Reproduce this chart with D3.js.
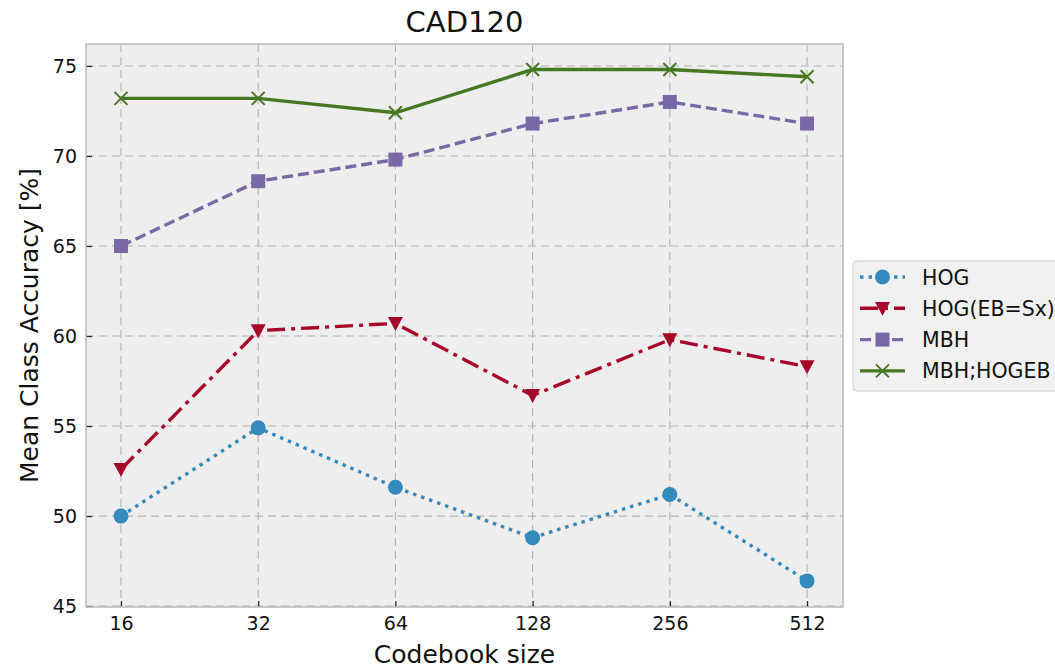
<!DOCTYPE html>
<html>
<head>
<meta charset="utf-8">
<script src="https://cdn.jsdelivr.net/npm/d3@7"></script>
<style>
  body { margin: 0; background: #ffffff; overflow: hidden; }
  svg { font-family: "DejaVu Sans", sans-serif; }
</style>
</head>
<body>
<div id="chart"></div>
<script>
// codebook sizes on the x axis
const sizes = [16, 32, 64, 128, 256, 512];
const yTicks = [45, 50, 55, 60, 65, 70, 75];

const hog = [50.0, 54.9, 51.6, 48.8, 51.2, 46.4];
const hogEB = [52.6, 60.3, 60.7, 56.7, 59.8, 58.3];
const mbh = [65.0, 68.6, 69.8, 71.8, 73.0, 71.8];
const mbhHogeb = [73.2, 73.2, 72.4, 74.8, 74.8, 74.4];

const seriesNames = ["HOG", "HOG(EB=Sx)", "MBH", "MBH;HOGEB"];
const seriesColors = ["#348ABD", "#A60628", "#7A68A6", "#467821"];

const W = 1055, H = 669;
const margin = {left: 86, right: 1055 - 843, top: 44, bottom: 669 - 607};

const svg = d3.select("#chart").append("svg")
    .attr("width", W).attr("height", H);

const x = d3.scaleLog().base(2)
    .domain([16 / Math.pow(2, 0.255), 512 * Math.pow(2, 0.262)])
    .range([margin.left, W - margin.right]);
const y = d3.scaleLinear()
    .domain([44.95, 76.22])
    .range([H - margin.bottom, margin.top]);

// plot background
svg.append("rect")
    .attr("x", margin.left).attr("y", margin.top)
    .attr("width", x.range()[1] - margin.left)
    .attr("height", y.range()[0] - margin.top)
    .attr("fill", "#eeeeee");

// grid
svg.append("g").selectAll("line").data(sizes).enter().append("line")
    .attr("x1", d => x(d)).attr("x2", d => x(d))
    .attr("y1", margin.top).attr("y2", y.range()[0])
    .attr("stroke", "#b2b2b2").attr("stroke-width", 1.1)
    .attr("stroke-dasharray", "8,5");
svg.append("g").selectAll("line").data(yTicks).enter().append("line")
    .attr("x1", margin.left).attr("x2", x.range()[1])
    .attr("y1", d => y(d)).attr("y2", d => y(d))
    .attr("stroke", "#b2b2b2").attr("stroke-width", 1.1)
    .attr("stroke-dasharray", "8,5");

// axes (ticks point inward)
const xAxis = svg.append("g")
    .attr("transform", `translate(0,${y.range()[0]})`)
    .call(d3.axisBottom(x).tickValues(sizes).tickFormat(d3.format("d"))
        .tickSizeInner(-6).tickSizeOuter(0).tickPadding(10));
const yAxis = svg.append("g")
    .attr("transform", `translate(${margin.left},0)`)
    .call(d3.axisLeft(y).tickValues(yTicks)
        .tickSizeInner(-6).tickSizeOuter(0).tickPadding(9));
[xAxis, yAxis].forEach(a => {
    a.select(".domain").remove();
    a.selectAll(".tick line").attr("stroke", "#222").attr("stroke-width", 1.2);
    a.selectAll(".tick text").attr("font-size", 19).attr("fill", "#111")
        .attr("font-family", "DejaVu Sans");
});

// frame
svg.append("rect")
    .attr("x", margin.left).attr("y", margin.top)
    .attr("width", x.range()[1] - margin.left)
    .attr("height", y.range()[0] - margin.top)
    .attr("fill", "none").attr("stroke", "#bcbcbc").attr("stroke-width", 1.6);

const dashes = ["3.5,5", "18,6,4,6", "11,5", null];
const allSeries = [hog, hogEB, mbh, mbhHogeb];

const line = d3.line().x((d, i) => x(sizes[i])).y(d => y(d));

function drawMarker(g, k, cx, cy, color) {
    if (k === 0) {
        g.append("circle").attr("cx", cx).attr("cy", cy).attr("r", 7.5).attr("fill", color);
    } else if (k === 1) {
        const s = 7.5;
        g.append("path")
            .attr("d", `M${cx - s},${cy - s * 0.85}L${cx + s},${cy - s * 0.85}L${cx},${cy + s}Z`)
            .attr("fill", color);
    } else if (k === 2) {
        g.append("rect").attr("x", cx - 7).attr("y", cy - 7)
            .attr("width", 14).attr("height", 14).attr("fill", color);
    } else {
        const s = 6.5;
        g.append("path")
            .attr("d", `M${cx - s},${cy - s}L${cx + s},${cy + s}M${cx - s},${cy + s}L${cx + s},${cy - s}`)
            .attr("stroke", color).attr("stroke-width", 2).attr("fill", "none");
    }
}

allSeries.forEach((vals, k) => {
    const g = svg.append("g");
    g.append("path").datum(vals)
        .attr("d", line)
        .attr("fill", "none")
        .attr("stroke", seriesColors[k])
        .attr("stroke-width", 3.4)
        .attr("stroke-dasharray", dashes[k]);
    vals.forEach((v, i) => drawMarker(g, k, x(sizes[i]), y(v), seriesColors[k]));
});

// title and labels
svg.append("text").attr("x", (margin.left + x.range()[1]) / 2).attr("y", 31.5)
    .attr("text-anchor", "middle").attr("font-size", 29).attr("fill", "#111")
    .text("CAD120");
svg.append("text").attr("x", (margin.left + x.range()[1]) / 2).attr("y", 663)
    .attr("text-anchor", "middle").attr("font-size", 25).attr("fill", "#111")
    .text("Codebook size");
svg.append("text")
    .attr("transform", `translate(38,${(margin.top + y.range()[0]) / 2}) rotate(-90)`)
    .attr("text-anchor", "middle").attr("font-size", 25).attr("fill", "#111")
    .text("Mean Class Accuracy [%]");

// legend
const leg = svg.append("g").attr("transform", "translate(853,261)");
leg.append("rect").attr("x", 0).attr("y", 0).attr("width", 230).attr("height", 130)
    .attr("rx", 4).attr("fill", "#eeeeee").attr("fill-opacity", 0.85)
    .attr("stroke", "#cccccc").attr("stroke-width", 1);
seriesNames.forEach((name, k) => {
    const yy = 16 + k * 31.3;
    leg.append("line").attr("x1", 7).attr("x2", 52).attr("y1", yy).attr("y2", yy)
        .attr("stroke", seriesColors[k]).attr("stroke-width", 3.4)
        .attr("stroke-dasharray", dashes[k]);
    drawMarker(leg, k, 29.5, yy, seriesColors[k]);
    leg.append("text").attr("x", 69).attr("y", yy + 7.5)
        .attr("font-size", 20.5).attr("fill", "#111").text(name);
});
</script>
</body>
</html>
